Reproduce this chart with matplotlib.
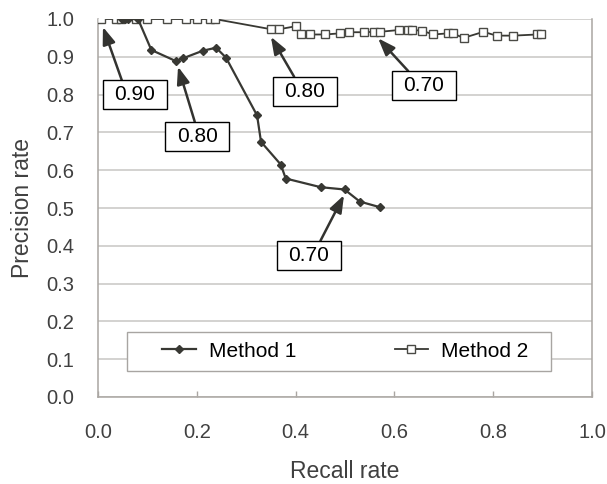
import matplotlib
matplotlib.use("Agg")
import matplotlib.pyplot as plt
from matplotlib.patches import Rectangle

plt.rcParams['font.family'] = ['Liberation Sans', 'DejaVu Sans']

# Method 1 precision/recall curve
m1_recall = [0.048, 0.054, 0.061, 0.081, 0.108, 0.157, 0.172, 0.212, 0.239, 0.259,
             0.322, 0.330, 0.370, 0.380, 0.451, 0.499, 0.530, 0.571]
m1_precision = [1.000, 1.000, 1.000, 1.000, 0.918, 0.889, 0.896, 0.916, 0.924, 0.898,
                0.745, 0.675, 0.615, 0.578, 0.555, 0.549, 0.517, 0.502]

# Method 2 precision/recall curve
m2_recall = [0.006, 0.036, 0.046, 0.077, 0.099, 0.139, 0.179, 0.200, 0.226, 0.236,
             0.350, 0.367, 0.401, 0.411, 0.429, 0.460, 0.489, 0.508, 0.538, 0.558,
             0.570, 0.610, 0.628, 0.636, 0.656, 0.679, 0.708, 0.718, 0.740, 0.780,
             0.807, 0.841, 0.888, 0.897]
m2_precision = [1.000, 1.000, 1.000, 1.000, 1.000, 1.000, 1.000, 1.000, 1.000, 1.000,
                0.973, 0.973, 0.981, 0.959, 0.959, 0.959, 0.962, 0.965, 0.965, 0.966,
                0.966, 0.971, 0.971, 0.971, 0.969, 0.959, 0.962, 0.962, 0.950, 0.966,
                0.956, 0.956, 0.959, 0.959]

series_labels = ["Method 1", "Method 2"]

# Threshold callouts: text, arrow tip (recall, precision)
callout_text = ["0.90", "0.80", "0.80", "0.70", "0.70"]
callout_tip = [(0.010, 0.979), (0.162, 0.874), (0.350, 0.953), (0.567, 0.949), (0.498, 0.534)]
callout_box_center = [(0.074, 0.800), (0.201, 0.690), (0.419, 0.809), (0.659, 0.824), (0.427, 0.375)]
callout_tail_rel = [0.30, 0.46, 0.33, 0.26, 0.68]

xticks = [0.0, 0.2, 0.4, 0.6, 0.8, 1.0]
yticks = [0.0, 0.1, 0.2, 0.3, 0.4, 0.5, 0.6, 0.7, 0.8, 0.9, 1.0]

line_col = "#383833"
text_col = "#404040"
grid_col = "#c8c6c3"
spine_col = "#aaa6a2"

fig = plt.figure(figsize=(6.07, 4.84), dpi=100)
ax = fig.add_axes([98 / 607, 1 - 397 / 484, 494 / 607, 378 / 484])

ax.plot(m1_recall, m1_precision, color=line_col, lw=1.6, marker="D", ms=4.2,
        mfc=line_col, mec=line_col, label=series_labels[0], zorder=4)
ax.plot(m2_recall, m2_precision, color=line_col, lw=1.3, marker="s", ms=5.2,
        mfc="white", mec="#4a4a45", mew=1.0, label=series_labels[1], zorder=3)

ax.set_xlim(0, 1.0)
ax.set_ylim(0, 1.0)
ax.set_xticks(xticks)
ax.set_yticks(yticks)
ax.set_xticklabels([f"{v:.1f}" for v in xticks])
ax.set_yticklabels([f"{v:.1f}" for v in yticks])

ax.yaxis.grid(True, color=grid_col, lw=1.1)
ax.set_axisbelow(True)
ax.spines['top'].set_visible(False)
for s in ['left', 'bottom', 'right']:
    ax.spines[s].set_color(spine_col)
    ax.spines[s].set_linewidth(1.1)

ax.tick_params(axis='x', direction='in', length=4.5, width=1, color=spine_col,
               pad=19, labelsize=14.5, labelcolor=text_col)
ax.tick_params(axis='y', length=0, pad=17, labelsize=14.5, labelcolor=text_col)

ax.set_xlabel("Recall rate", fontsize=16.5, color=text_col, labelpad=13)
ax.set_ylabel("Precision rate", fontsize=16.5, color=text_col, labelpad=9)

# Callout boxes with arrows
bw, bh = 64 / 494, 29 / 378
for txt, tip, cen, rel in zip(callout_text, callout_tip, callout_box_center, callout_tail_rel):
    x0, y0 = cen[0] - bw / 2, cen[1] - bh / 2
    ax.add_patch(Rectangle((x0, y0), bw, bh, facecolor="white", edgecolor="black",
                           lw=1.0, zorder=6))
    ax.text(cen[0], cen[1], txt, ha="center", va="center", fontsize=15,
            color="black", zorder=7)
    tail = (x0 + rel * bw, y0 + bh)
    ax.annotate("", xy=tip, xytext=tail,
                arrowprops=dict(arrowstyle="-|>,head_length=0.65,head_width=0.24",
                                color="#333330", lw=1.8, shrinkA=0, shrinkB=0,
                                mutation_scale=16),
                zorder=5)

# Legend frame drawn separately so the entries can sit freely inside it
ax.add_patch(Rectangle((0.058, 0.0696), 0.858, 0.1034, transform=ax.transAxes,
                       facecolor="white", edgecolor="#a8a5a2", lw=1.0, zorder=2.5))
leg = ax.legend(loc="center", bbox_to_anchor=(0.501, 0.121), ncol=2, fontsize=15,
                frameon=False, handlelength=1.6, handletextpad=0.65,
                borderaxespad=0, borderpad=0, columnspacing=4.7)
for t in leg.get_texts():
    t.set_color("black")

fig.savefig("out.png", dpi=100)
